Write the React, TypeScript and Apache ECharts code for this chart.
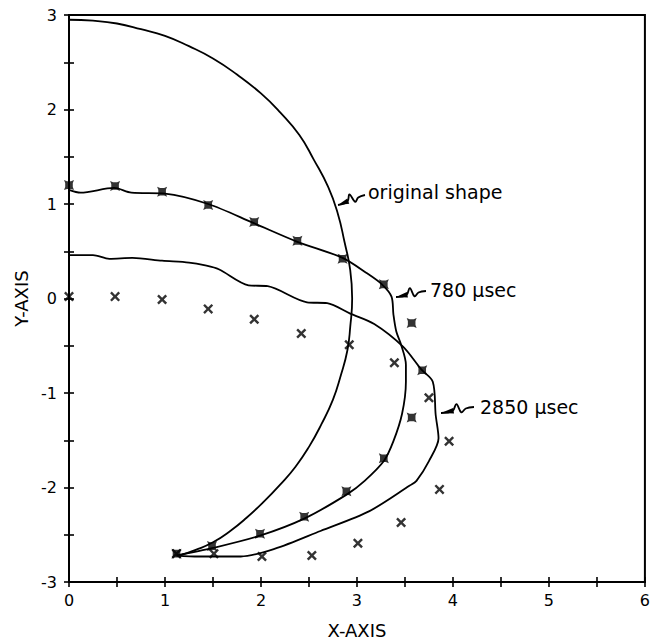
import React, { useEffect, useRef } from "react";
import * as echarts from "echarts";

// original shape (curve)
const origX = [0, 0.25, 0.5, 0.75, 1.0, 1.25, 1.5, 1.75, 2.0, 2.2, 2.4, 2.55, 2.7, 2.8, 2.87, 2.93, 2.95, 2.93, 2.9, 2.83, 2.75, 2.63, 2.5, 2.36, 2.2, 2.03, 1.85, 1.68, 1.5, 1.32, 1.15];
const origY = [2.95, 2.94, 2.91, 2.85, 2.78, 2.67, 2.54, 2.37, 2.17, 1.97, 1.73, 1.47, 1.18, 0.9, 0.6, 0.3, 0, -0.3, -0.55, -0.82, -1.07, -1.33, -1.57, -1.78, -1.97, -2.15, -2.32, -2.46, -2.58, -2.66, -2.72];

// 780 microsecond computed curve
const c780X = [0, 0.12, 0.47, 0.65, 1.0, 1.45, 1.92, 2.38, 2.85, 3.1, 3.26, 3.36, 3.38, 3.41, 3.46, 3.51, 3.51, 3.47, 3.38, 3.28, 3.08, 2.9, 2.45, 1.99, 1.5, 1.12];
const c780Y = [1.15, 1.12, 1.17, 1.12, 1.11, 1.0, 0.8, 0.6, 0.43, 0.27, 0.15, 0.02, -0.17, -0.35, -0.49, -0.7, -0.88, -1.22, -1.51, -1.72, -1.93, -2.07, -2.33, -2.51, -2.64, -2.72];

// 2850 microsecond computed curve
const c2850X = [0, 0.25, 0.42, 0.66, 0.97, 1.25, 1.42, 1.56, 1.87, 2.07, 2.48, 2.69, 2.93, 3.18, 3.48, 3.67, 3.79, 3.82, 3.85, 3.75, 3.62, 3.55, 3.13, 2.62, 2.14, 1.79, 1.35, 1.12];
const c2850Y = [0.46, 0.46, 0.42, 0.43, 0.4, 0.38, 0.35, 0.31, 0.14, 0.13, -0.04, -0.05, -0.16, -0.27, -0.51, -0.75, -0.88, -1.23, -1.48, -1.72, -1.93, -1.98, -2.25, -2.46, -2.65, -2.73, -2.73, -2.72];

// 780 microsecond measured points (asterisk markers)
const m780X = [0, 0.48, 0.97, 1.45, 1.93, 2.38, 2.85, 3.28, 3.57, 3.68, 3.57, 3.28, 2.89, 2.45, 1.99, 1.49, 1.12];
const m780Y = [1.2, 1.19, 1.13, 0.99, 0.81, 0.61, 0.42, 0.15, -0.26, -0.76, -1.26, -1.69, -2.04, -2.31, -2.49, -2.62, -2.7];

// 2850 microsecond measured points (x markers)
const m2850X = [0, 0.48, 0.97, 1.45, 1.93, 2.42, 2.92, 3.39, 3.75, 3.96, 3.86, 3.46, 3.01, 2.53, 2.01, 1.51, 1.12];
const m2850Y = [0.02, 0.02, -0.01, -0.11, -0.22, -0.37, -0.49, -0.68, -1.05, -1.51, -2.02, -2.37, -2.59, -2.72, -2.73, -2.7, -2.7];

const xTicks = [0, 1, 2, 3, 4, 5, 6];
const yTicks = [-3, -2, -1, 0, 1, 2, 3];

const zip = (xs: number[], ys: number[]) => xs.map((x, i) => [x, ys[i]]);

const FONT = "DejaVu Sans";

function squiggle(sx: number, sy: number, ex: number, ey: number) {
  const dx = ex - sx, dy = ey - sy;
  const L = Math.hypot(dx, dy);
  const ux = dx / L, uy = dy / L;
  const nx = uy, ny = -ux;
  const pt = (t: number, o: number) => [sx + ux * L * t + nx * o, sy + uy * L * t + ny * o];
  return [
    {
      type: "polyline",
      shape: { points: [pt(0, 0), pt(0.35, 0), pt(0.5, 6), pt(0.6, -3), pt(0.75, 0), pt(1, 0)], smooth: 0.4 },
      style: { stroke: "#000", lineWidth: 1.8, fill: null },
      z: 100,
    },
    {
      type: "polygon",
      shape: { points: [pt(0, 0), pt(0.38, 2.8), pt(0.38, -2.8)] },
      style: { fill: "#000" },
      z: 100,
    },
  ];
}

export default function App() {
  const ref = useRef<HTMLDivElement>(null);
  useEffect(() => {
    document.body.style.margin = "0";
    const chart = echarts.init(ref.current!, null, { renderer: "svg" });
    const axisCommon = {
      type: "value",
      splitLine: { show: false },
    };
    const intLabel = (v: number) => (Number.isInteger(v) ? String(v) : "");
    const tickStyle = { color: "#000", width: 1.6 };
    chart.setOption({
      animation: false,
      backgroundColor: "#fff",
      grid: { left: 69, right: 1, top: 15, bottom: 61, show: true, borderColor: "#000", borderWidth: 2 },
      xAxis: [
        {
          ...axisCommon,
          min: xTicks[0],
          max: xTicks[xTicks.length - 1],
          interval: 0.5,
          position: "bottom",
          axisLine: { show: true, onZero: false, lineStyle: { color: "#000", width: 2 } },
          axisTick: { show: true, inside: true, length: 5, lineStyle: tickStyle },
          axisLabel: { formatter: intLabel, color: "#000", fontSize: 16, fontFamily: FONT, margin: 10 },
          name: "X-AXIS",
          nameLocation: "middle",
          nameGap: 39,
          nameTextStyle: { color: "#000", fontSize: 18, fontFamily: FONT },
        },
        {
          ...axisCommon,
          min: xTicks[0],
          max: xTicks[xTicks.length - 1],
          interval: 0.5,
          position: "bottom",
          axisLine: { show: false, onZero: false },
          axisTick: { show: true, inside: false, length: 5, lineStyle: tickStyle },
          axisLabel: { show: false },
        },
      ],
      yAxis: [
        {
          ...axisCommon,
          min: yTicks[0],
          max: yTicks[yTicks.length - 1],
          interval: 0.5,
          position: "left",
          axisLine: { show: true, onZero: false, lineStyle: { color: "#000", width: 2 } },
          axisTick: { show: true, inside: true, length: 5, lineStyle: tickStyle },
          axisLabel: { formatter: intLabel, color: "#000", fontSize: 16, fontFamily: FONT, margin: 12 },
          name: "Y-AXIS",
          nameLocation: "middle",
          nameGap: 36,
          nameTextStyle: { color: "#000", fontSize: 18, fontFamily: FONT },
        },
        {
          ...axisCommon,
          min: yTicks[0],
          max: yTicks[yTicks.length - 1],
          interval: 0.5,
          position: "left",
          axisLine: { show: false, onZero: false },
          axisTick: { show: true, inside: false, length: 5, lineStyle: tickStyle },
          axisLabel: { show: false },
        },
      ],
      series: [
        {
          name: "original shape",
          type: "line",
          data: zip(origX, origY),
          smooth: 0.5,
          showSymbol: false,
          lineStyle: { color: "#000", width: 1.8 },
        },
        {
          name: "780 μsec",
          type: "line",
          data: zip(c780X, c780Y),
          smooth: 0.3,
          showSymbol: false,
          lineStyle: { color: "#000", width: 1.8 },
        },
        {
          name: "2850 μsec",
          type: "line",
          data: zip(c2850X, c2850Y),
          smooth: 0.3,
          showSymbol: false,
          lineStyle: { color: "#000", width: 1.8 },
        },
        {
          name: "780 μsec data",
          type: "scatter",
          data: zip(m780X, m780Y),
          symbol: "path://M0,0 L3,1.2 L7,1.2 L10,0 L8.8,3 L8.8,7 L10,10 L7,8.8 L3,8.8 L0,10 L1.2,7 L1.2,3 Z",
          symbolSize: 10,
          itemStyle: { color: "#000" },
          z: 5,
        },
        {
          name: "2850 μsec data",
          type: "scatter",
          data: zip(m2850X, m2850Y),
          symbol: "path://M0,1.7 L1.7,0 L5,3.3 L8.3,0 L10,1.7 L6.7,5 L10,8.3 L8.3,10 L5,6.7 L1.7,10 L0,8.3 L3.3,5 Z",
          symbolSize: 10,
          itemStyle: { color: "#000" },
          z: 5,
        },
      ],
      graphic: [
        ...squiggle(338, 205, 365, 195),
        { type: "text", x: 368, y: 192, style: { text: "original shape", fontSize: 19, fontFamily: FONT, fill: "#000", verticalAlign: "middle" }, z: 100 },
        ...squiggle(396, 297, 426, 291),
        { type: "text", x: 430, y: 290, style: { text: "780 μsec", fontSize: 19, fontFamily: FONT, fill: "#000", verticalAlign: "middle" }, z: 100 },
        ...squiggle(441, 413, 474, 407),
        { type: "text", x: 480, y: 407, style: { text: "2850 μsec", fontSize: 19, fontFamily: FONT, fill: "#000", verticalAlign: "middle" }, z: 100 },
      ],
    });
    return () => chart.dispose();
  }, []);
  return <div ref={ref} style={{ position: "absolute", left: 0, top: 0, width: 653, height: 644 }} />;
}
